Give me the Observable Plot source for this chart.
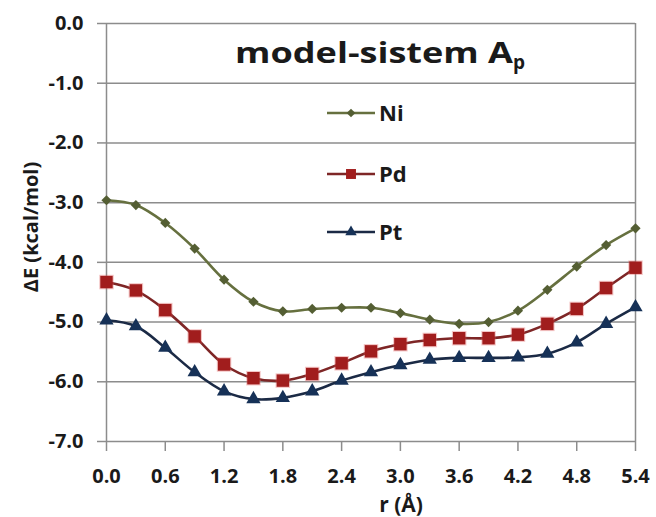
<!DOCTYPE html>
<html><head><meta charset="utf-8">
<script src="https://cdn.jsdelivr.net/npm/d3@7"></script>
<script src="https://cdn.jsdelivr.net/npm/@observablehq/plot@0.6"></script>
<style>
body{margin:0;background:#fff;}
#wrap{position:relative;width:656px;height:517px;font-family:"Open Sans",sans-serif;overflow:hidden;}
#wrap svg.overlay{position:absolute;left:0;top:0;pointer-events:none;}
</style></head><body><div id="wrap"></div>
<script>
const r = [0,0.3,0.6,0.9,1.2,1.5,1.8,2.1,2.4,2.7,3.0,3.3,3.6,3.9,4.2,4.5,4.8,5.1,5.4];
const ni = [-2.96,-3.04,-3.34,-3.77,-4.29,-4.66,-4.82,-4.78,-4.76,-4.76,-4.85,-4.96,-5.03,-5.00,-4.81,-4.46,-4.07,-3.71,-3.43];
const pd = [-4.33,-4.47,-4.80,-5.24,-5.71,-5.94,-5.98,-5.87,-5.69,-5.49,-5.37,-5.30,-5.27,-5.27,-5.21,-5.03,-4.78,-4.43,-4.09];
const pt = [-4.97,-5.07,-5.43,-5.84,-6.16,-6.29,-6.27,-6.16,-5.98,-5.84,-5.72,-5.63,-5.60,-5.60,-5.59,-5.53,-5.34,-5.03,-4.75];
const seriesNames = ["Ni","Pd","Pt"];
const xTicks = [0,0.6,1.2,1.8,2.4,3.0,3.6,4.2,4.8,5.4];
const yTicks = [0,-1,-2,-3,-4,-5,-6,-7];
const titleText = "model-sistem A";
const titleSub = "p";
const xLabel = "r (Å)";
const yLabel = "ΔE (kcal/mol)";

const lineColors = {Ni:"#66703f", Pd:"#7e2626", Pt:"#1b2a45"};
const markColors = {Ni:"#545e33", Pd:"#a11d1d", Pt:"#163157"};
const symbols = {Ni:"diamond2", Pd:"square", Pt:"triangle"};
const sizes = {Ni:4.6, Pd:7.0, Pt:5.3};

const seriesVals = {Ni:ni, Pd:pd, Pt:pt};
const data = seriesNames.flatMap(s => r.map((x,i)=>({r:x, E:seriesVals[s][i], series:s})));
const fmt = d => d.toFixed(1);
const grid = "#8c8c8c";

const plot = Plot.plot({
  width:656, height:517,
  marginLeft:106, marginRight:21, marginTop:23, marginBottom:76,
  style:{fontFamily:'"Open Sans", sans-serif', fontSize:"20px", fontWeight:"bold", color:"#1a1a1a", background:"transparent", overflow:"visible"},
  x:{domain:[xTicks[0], xTicks[xTicks.length-1]]},
  y:{domain:[yTicks[yTicks.length-1], yTicks[0]]},
  marks:[
    Plot.gridY(yTicks,{stroke:grid, strokeOpacity:1, strokeWidth:1.5}),
    Plot.ruleX([xTicks[0]],{stroke:grid, strokeWidth:1.5}),
    Plot.ruleX([xTicks[xTicks.length-1]],{stroke:grid, strokeWidth:1.5}),
    Plot.axisY(yTicks,{tickSize:9, tickPadding:14, tickFormat:fmt, stroke:grid, strokeWidth:1.5, fill:"#1a1a1a", label:null, fontSize:20}),
    Plot.axisX(xTicks,{tickSize:10, tickPadding:17, tickFormat:fmt, stroke:grid, strokeWidth:1.5, fill:"#1a1a1a", label:null, fontSize:20}),
    ...seriesNames.map(s => Plot.line(data.filter(d=>d.series===s),{x:"r", y:"E", stroke:lineColors[s], strokeWidth:2.6, curve:"catmull-rom"})),
    Plot.dot(data.filter(d=>d.series==="Pd"),{x:"r", y:"E", symbol:symbols.Pd, r:sizes.Pd+1.2, fill:"#e05a5a", fillOpacity:0.35}),
    ...seriesNames.map(s => Plot.dot(data.filter(d=>d.series===s),{x:"r", y:"E", symbol:symbols[s], r:sizes[s], fill:markColors[s], stroke:"none"}))
  ]
});
const wrap = document.getElementById("wrap");
wrap.appendChild(plot);

// overlay: title, legend, axis labels
const ov = d3.select(wrap).append("svg").attr("class","overlay").attr("width",656).attr("height",517)
  .style("font-family",'"Open Sans", sans-serif').style("font-weight","bold").style("fill","#1a1a1a");

ov.append("text").attr("x",235).attr("y",63).attr("textLength",278).attr("lengthAdjust","spacingAndGlyphs")
  .style("font-size","29px").text(titleText);
ov.append("text").attr("x",513).attr("y",69).style("font-size","19px").text(titleSub);

const legY = [113,174,232];
const legSym = {Ni:d3.symbolDiamond2, Pd:d3.symbolSquare, Pt:d3.symbolTriangle};
seriesNames.forEach((s,i)=>{
  const g = ov.append("g").attr("transform",`translate(0,${legY[i]})`);
  g.append("line").attr("x1",327).attr("x2",375).attr("y1",0).attr("y2",0).attr("stroke",lineColors[s]).attr("stroke-width",2.6);
  g.append("path").attr("transform","translate(351,0)")
    .attr("d", d3.symbol(legSym[s], Math.PI*Math.pow(sizes[s]*(s==="Ni"?0.85:0.8),2))())
    .attr("fill",markColors[s]);
  g.append("text").attr("x",379).attr("y",8).style("font-size","22px").text(s);
});

ov.append("text").attr("x",401).attr("y",512).attr("text-anchor","middle").style("font-size","21px").text(xLabel);
ov.append("text").attr("transform","translate(38,227) rotate(-90)").attr("text-anchor","middle").style("font-size","20px").text(yLabel);
</script>
</body></html>
